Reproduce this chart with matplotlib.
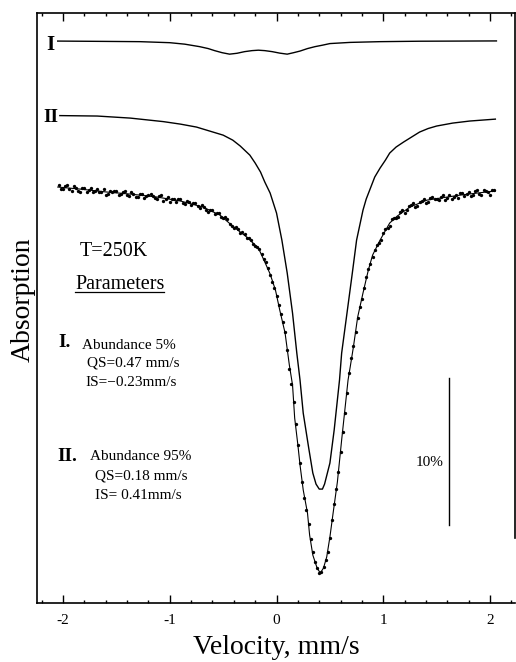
import numpy as np
import matplotlib.pyplot as plt
from matplotlib.lines import Line2D
from matplotlib.ticker import MultipleLocator
from matplotlib.transforms import IdentityTransform

plt.rcParams['font.family'] = ['Liberation Serif', 'DejaVu Serif']
plt.rcParams['axes.unicode_minus'] = False

# === DATA ===
# subspectrum I (doublet), transmission in %
v_I = [-2.05, -1.65, -1.28, -1.00, -0.86, -0.72, -0.64, -0.58, -0.51, -0.44,
       -0.37, -0.30, -0.23, -0.17, -0.11, -0.04, 0.03, 0.10, 0.16, 0.22,
       0.29, 0.36, 0.43, 0.50, 0.69, 0.97, 1.34, 1.72, 2.06]
T_I = [99.99, 99.97, 99.95, 99.88, 99.78, 99.61, 99.48, 99.34, 99.20, 99.10,
       99.16, 99.27, 99.34, 99.37, 99.34, 99.27, 99.17, 99.10, 99.20, 99.31,
       99.48, 99.61, 99.71, 99.82, 99.90, 99.95, 99.98, 99.99, 100.00]

# subspectrum II (singlet)
v_II = [-2.03, -1.68, -1.37, -1.06, -0.90, -0.75, -0.50, -0.41, -0.34, -0.25,
        -0.20, -0.15, -0.11, -0.06, 0.00, 0.05, 0.10, 0.15, 0.19, 0.22,
        0.25, 0.30, 0.34, 0.37, 0.40, 0.43, 0.45, 0.50, 0.54, 0.59,
        0.61, 0.66, 0.71, 0.75, 0.81, 0.84, 0.88, 0.92, 0.97, 1.02,
        1.06, 1.12, 1.19, 1.34, 1.42, 1.50, 1.65, 1.81, 2.05]
T_II = [99.83, 99.80, 99.66, 99.42, 99.25, 99.05, 98.50, 98.16, 97.76, 97.14,
        96.60, 95.99, 95.31, 94.56, 93.20, 91.36, 89.12, 86.39, 83.67, 81.84,
        79.59, 77.28, 75.51, 74.76, 74.42, 74.42, 74.76, 76.19, 78.44, 81.84,
        83.67, 86.39, 89.12, 91.36, 93.40, 94.15, 94.90, 95.65, 96.26, 96.80,
        97.28, 97.69, 98.03, 98.71, 98.95, 99.12, 99.32, 99.46, 99.59]

# total fit through the measured spectrum
v_fit = [-2.05, -1.84, -1.59, -1.37, -1.12, -0.90, -0.69, -0.53, -0.41, -0.28,
         -0.17, -0.11, -0.06, -0.01, 0.03, 0.08, 0.12, 0.15, 0.17, 0.20,
         0.22, 0.25, 0.29, 0.31, 0.34, 0.38, 0.41, 0.44, 0.47, 0.50,
         0.53, 0.57, 0.61, 0.64, 0.67, 0.69, 0.72, 0.76, 0.81, 0.86,
         0.90, 0.97, 1.06, 1.13, 1.25, 1.41, 1.60, 1.72, 1.88, 2.05]
T_fit = [99.39, 99.25, 99.05, 98.91, 98.71, 98.44, 98.03, 97.48, 96.73, 95.99,
         95.24, 94.29, 93.47, 92.38, 91.02, 89.46, 87.28, 85.92, 83.67, 81.84,
         80.48, 78.78, 77.21, 75.71, 74.35, 73.47, 73.13, 73.47, 74.22, 75.58,
         77.21, 79.32, 82.18, 84.22, 86.26, 87.14, 88.50, 90.54, 92.18, 93.74,
         94.76, 95.78, 96.94, 97.41, 98.03, 98.50, 98.71, 98.84, 98.98, 99.12]

# measured points, even channels
v_meas = [-2.04, -2.00, -1.96, -1.92, -1.88, -1.84, -1.80, -1.76, -1.72, -1.68,
          -1.64, -1.60, -1.56, -1.52, -1.48, -1.44, -1.40, -1.36, -1.32, -1.28,
          -1.24, -1.20, -1.16, -1.12, -1.08, -1.04, -1.00, -0.96, -0.92, -0.88,
          -0.84, -0.80, -0.76, -0.72, -0.68, -0.64, -0.60, -0.56, -0.52, -0.48,
          -0.44, -0.40, -0.36, -0.32, -0.28, -0.24, -0.20, -0.16, -0.12, -0.08,
          -0.04, 0.00, 0.04, 0.08, 0.12, 0.16, 0.20, 0.24, 0.28, 0.32,
          0.36, 0.40, 0.44, 0.48, 0.52, 0.56, 0.60, 0.64, 0.68, 0.72,
          0.76, 0.80, 0.84, 0.88, 0.92, 0.96, 1.00, 1.04, 1.08, 1.12,
          1.16, 1.20, 1.24, 1.28, 1.32, 1.36, 1.40, 1.44, 1.48, 1.52,
          1.56, 1.60, 1.64, 1.68, 1.72, 1.76, 1.80, 1.84, 1.88, 1.92,
          1.96, 2.00, 2.04]
T_meas = [99.51, 99.28, 99.51, 99.15, 99.32, 99.05, 99.32, 99.21, 99.03, 99.28,
          99.04, 98.88, 99.11, 99.15, 98.88, 99.08, 98.85, 99.08, 98.72, 98.89,
          98.61, 98.88, 98.76, 98.59, 98.82, 98.56, 98.38, 98.59, 98.60, 98.30,
          98.45, 98.18, 98.33, 97.97, 98.05, 97.70, 97.82, 97.60, 97.32, 97.32,
          96.90, 96.58, 96.53, 96.35, 95.92, 95.81, 95.37, 95.15, 94.49, 93.89,
          92.95, 92.01, 90.76, 89.51, 87.04, 84.75, 81.85, 79.34, 77.40, 75.44,
          73.86, 73.10, 73.53, 74.56, 76.75, 78.86, 81.35, 84.05, 86.74, 88.55,
          90.46, 91.80, 93.26, 94.17, 95.12, 95.56, 96.25, 96.58, 97.19, 97.25,
          97.67, 97.65, 98.08, 98.27, 98.13, 98.42, 98.30, 98.63, 98.59, 98.50,
          98.83, 98.66, 98.57, 98.88, 98.98, 98.78, 99.03, 98.87, 99.16, 98.87,
          99.10, 98.88, 99.21]

# measured points, odd channels
v_meas_b = [-2.02, -1.98, -1.94, -1.90, -1.86, -1.82, -1.78, -1.74, -1.70, -1.66,
            -1.62, -1.58, -1.54, -1.50, -1.46, -1.42, -1.38, -1.34, -1.30, -1.26,
            -1.22, -1.18, -1.14, -1.10, -1.06, -1.02, -0.98, -0.94, -0.90, -0.86,
            -0.82, -0.78, -0.74, -0.70, -0.66, -0.62, -0.58, -0.54, -0.50, -0.46,
            -0.42, -0.38, -0.34, -0.30, -0.26, -0.22, -0.18, -0.14, -0.10, -0.06,
            -0.02, 0.02, 0.06, 0.10, 0.14, 0.18, 0.22, 0.26, 0.30, 0.34,
            0.38, 0.42, 0.46, 0.50, 0.54, 0.58, 0.62, 0.66, 0.70, 0.74,
            0.78, 0.82, 0.86, 0.90, 0.94, 0.98, 1.02, 1.06, 1.10, 1.14,
            1.18, 1.22, 1.26, 1.30, 1.34, 1.38, 1.42, 1.46, 1.50, 1.54,
            1.58, 1.62, 1.66, 1.70, 1.74, 1.78, 1.82, 1.86, 1.90, 1.94,
            1.98, 2.02]
T_meas_b = [99.24, 99.44, 99.29, 99.46, 99.15, 99.30, 99.02, 99.30, 99.15, 99.02,
            99.23, 98.89, 99.06, 99.11, 98.90, 99.14, 98.79, 98.92, 98.72, 98.92,
            98.77, 98.93, 98.62, 98.75, 98.45, 98.72, 98.55, 98.40, 98.58, 98.21,
            98.34, 98.33, 98.07, 98.19, 97.80, 97.82, 97.53, 97.59, 97.28, 97.20,
            96.73, 96.64, 96.23, 96.21, 95.90, 95.53, 95.34, 94.80, 94.27, 93.41,
            92.54, 91.35, 90.19, 88.30, 86.00, 83.26, 80.59, 78.25, 76.44, 74.56,
            73.48, 73.17, 73.99, 75.51, 77.85, 80.01, 82.75, 85.40, 87.74, 89.50,
            91.20, 92.49, 93.82, 94.60, 95.46, 95.79, 96.55, 96.74, 97.30, 97.32,
            97.83, 97.81, 98.17, 98.03, 98.38, 98.56, 98.40, 98.72, 98.56, 98.74,
            98.54, 98.85, 98.72, 98.65, 98.96, 98.93, 98.81, 99.11, 98.92, 99.20,
            99.02, 99.21]

scale_pct = 10
xticks = [-2, -1, 0, 1, 2]
xticklabels = ['-2', '-1', '0', '1', '2']

# === FIGURE ===
fig = plt.figure(figsize=(5.16, 6.62), dpi=100)
ax = fig.add_axes([37 / 516, 59 / 662, 478 / 516, 590 / 662])

# vertical stacking of the three spectra (baseline height on the % scale)
level_I, level_II, level_data = 38.24, 33.33, 28.91

ax.plot(v_I, np.array(T_I) - 100 + level_I, color='black', lw=1.0)
ax.plot(v_II, np.array(T_II) - 100 + level_II, color='black', lw=1.0)
ax.plot(v_fit, np.array(T_fit) - 100 + level_data, color='black', lw=0.8)
ax.plot(v_meas, np.array(T_meas) - 100 + level_data, 'o', color='black',
        ms=2.4, mew=0)
ax.plot(v_meas_b, np.array(T_meas_b) - 100 + level_data, 'o', color='black',
        ms=2.4, mew=0)

# 10% scale bar
ax.plot([1.616, 1.616], [5.31, 5.31 + scale_pct], color='black', lw=1.0)
ax.text(1.56, 9.59, f"{scale_pct}%", ha='right', va='center', fontsize=11)

ax.set_xlim(-2.244, 2.234)
ax.set_ylim(0, 40.14)
ax.set_yticks([])
ax.set_xticks(xticks)
ax.set_xticklabels(xticklabels)
ax.xaxis.set_minor_locator(MultipleLocator(0.2))
ax.tick_params(axis='x', which='both', direction='in', top=True,
               labelsize=11, pad=8, width=1.0)
ax.tick_params(axis='x', which='major', length=5.5)
ax.tick_params(axis='x', which='minor', length=2.5)
for s in ax.spines.values():
    s.set_linewidth(1.2)
ax.spines['right'].set_bounds(4.42, 40.14)

# curve labels
ax.text(-2.12, 37.96, "I", ha='center', va='center', fontsize=15,
        fontweight='bold')
ax.text(-2.11, 33.03, "II", ha='center', va='center', fontsize=14,
        fontweight='bold')

# parameters block
ax.text(-1.84, 23.91, "T=250K", ha='left', va='center', fontsize=14.5)
par = ax.text(-1.888, 21.36, "Parameters", ha='left', va='baseline',
              fontsize=14.5)

ax.text(-2.047, 17.69, "I.", ha='left', va='center', fontsize=14,
        fontweight='bold')
ax.text(-1.822, 17.55, "Abundance 5%", ha='left', va='center', fontsize=11)
ax.text(-1.775, 16.33, "QS=0.47 mm/s", ha='left', va='center', fontsize=11)
ax.text(-1.794, 14.97, "IS=\u22120.23mm/s", ha='left', va='center', fontsize=11)

ax.text(-2.056, 10.0, "II.", ha='left', va='center', fontsize=14,
        fontweight='bold')
ax.text(-1.747, 10.0, "Abundance 95%", ha='left', va='center', fontsize=11)
ax.text(-1.700, 8.64, "QS=0.18 mm/s", ha='left', va='center', fontsize=11)
ax.text(-1.700, 7.28, "IS= 0.41mm/s", ha='left', va='center', fontsize=11)

# axis titles
fig.text(276 / 516, 1 - 654 / 662, "Velocity, mm/s", ha='center',
         va='baseline', fontsize=20)
fig.text(23 / 516, 1 - 300 / 662, "Absorption", ha='center', va='center',
         rotation=90, fontsize=20)

# underline "Parameters"
fig.canvas.draw()
bb = par.get_window_extent(fig.canvas.get_renderer())
y_ul = 662 - 292
fig.add_artist(Line2D([bb.x0, bb.x1], [y_ul, y_ul], color='black', lw=0.9,
                      transform=IdentityTransform()))

fig.savefig("out.png", dpi=100)
